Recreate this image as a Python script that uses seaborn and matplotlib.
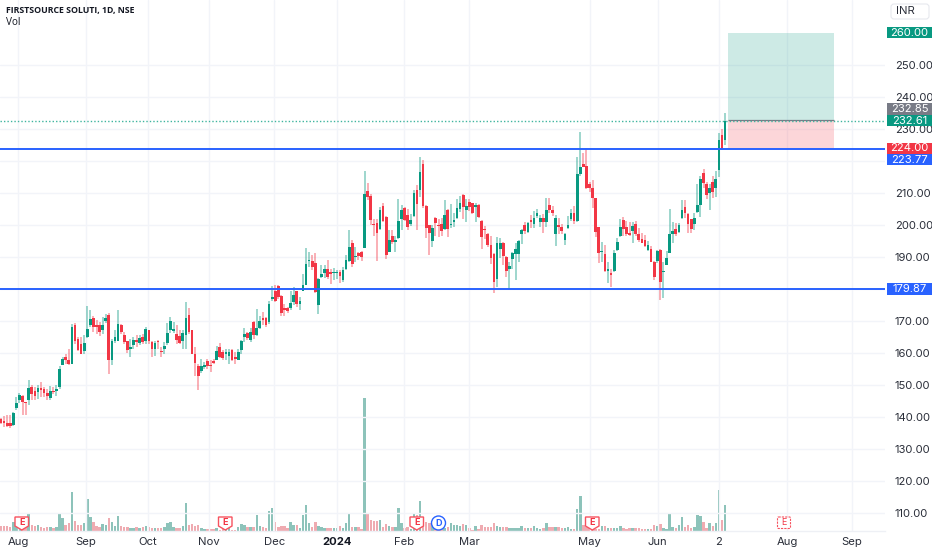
import numpy as np
import pandas as pd
import matplotlib
matplotlib.use("Agg")
import matplotlib.pyplot as plt
from matplotlib.patches import Rectangle, Polygon, Circle, FancyBboxPatch
from matplotlib.transforms import Affine2D
import seaborn as sns

opens = [
 139.3,138.9,138.0,138.0,137.5,142.7,145.3,146.6,144.6,145.2,
 149.4,148.1,147.8,148.8,148.6,147.5,145.9,148.2,148.0,149.3,
 156.4,158.9,157.9,156.6,168.9,164.5,162.9,160.5,165.0,168.6,
 171.0,168.9,168.6,167.1,170.0,172.0,157.9,163.9,163.9,168.9,
 165.5,163.7,161.3,162.6,164.1,163.2,165.0,163.6,167.1,163.4,
 161.3,163.9,160.5,161.3,163.2,167.1,166.9,165.8,165.3,163.9,
 165.7,172.0,167.1,159.8,155.8,154.3,155.6,157.4,156.3,157.4,
 157.9,161.8,160.3,159.8,159.2,161.0,158.9,157.9,160.8,165.1,
 166.1,164.1,169.8,165.6,167.9,170.9,170.9,169.7,176.8,179.5,
 181.0,177.9,173.7,174.1,174.1,175.9,179.3,175.4,179.5,181.2,
 188.7,188.9,188.1,174.9,183.9,185.0,186.1,185.1,184.9,184.9,
 185.2,182.9,186.2,188.9,194.3,190.0,191.4,191.6,192.9,210.5,
 209.0,200.2,200.7,198.8,205.8,202.5,191.7,196.7,194.7,196.0,
 201.9,205.4,203.0,200.2,202.7,211.0,211.0,219.1,205.9,199.9,
 195.0,202.2,199.9,200.4,198.8,204.6,199.9,201.0,202.3,205.1,
 209.3,204.7,207.2,206.8,205.5,206.2,201.2,198.5,197.1,193.7,
 191.0,183.1,192.4,194.5,190.1,186.2,189.3,190.9,190.9,197.2,
 199.9,197.9,201.3,200.3,202.9,200.8,202.3,200.8,206.2,204.7,
 197.1,199.9,199.5,195.3,199.2,202.0,203.9,201.3,215.9,219.2,
 218.3,212.7,211.7,208.3,199.4,191.5,190.9,185.7,184.8,185.7,
 192.1,196.6,201.5,199.5,197.1,198.2,200.2,197.1,195.6,195.3,
 192.2,192.6,188.5,188.8,192.2,185.2,187.6,191.4,197.1,198.7,
 197.9,202.3,205.7,203.4,201.8,200.2,204.2,206.2,216.4,212.7,
 210.1,213.5,211.7,217.1,228.1,226.6]
highs = [
 139.6,140.3,140.6,140.6,141.7,146.2,147.6,146.9,144.8,151.6,
 149.9,149.4,149.9,150.9,149.4,148.8,149.6,149.4,149.9,155.8,
 158.9,159.6,161.3,169.1,169.4,165.0,165.0,165.5,174.6,173.3,
 171.7,170.2,169.7,171.2,172.3,172.5,164.5,167.3,173.3,169.1,
 166.5,163.9,164.5,165.0,165.5,165.7,166.0,168.1,167.3,163.6,
 163.6,164.1,161.8,163.4,169.4,171.2,169.7,168.6,167.1,167.3,
 175.9,174.1,167.3,161.8,156.6,158.2,157.2,158.2,157.7,158.2,
 162.1,163.1,160.8,161.3,161.3,161.3,160.3,161.3,164.2,167.7,
 166.7,167.7,170.1,173.6,171.7,172.8,171.4,176.4,180.8,181.1,
 181.1,178.2,175.4,174.3,179.5,180.6,179.5,177.5,184.8,192.8,
 191.5,190.5,191.3,183.5,187.4,187.4,189.1,186.3,186.6,185.8,
 186.0,186.8,190.5,198.3,195.2,193.1,191.5,191.8,216.8,213.2,
 209.8,201.9,201.9,205.6,206.9,202.7,198.3,198.5,196.7,208.2,
 206.3,205.6,205.1,203.5,211.0,212.4,221.4,220.2,206.1,200.1,
 199.9,202.5,201.9,202.2,207.7,205.1,206.6,203.7,208.2,209.2,
 209.6,208.1,208.1,207.0,207.0,206.5,201.5,199.7,197.4,196.6,
 191.2,196.1,195.8,194.7,190.3,188.3,191.6,194.3,195.4,198.7,
 201.0,201.0,203.1,204.4,204.9,203.1,203.4,208.4,208.3,205.8,
 203.1,202.3,200.2,197.6,202.9,204.9,205.8,221.1,229.1,222.6,
 224.2,213.3,214.0,208.5,199.5,194.7,193.7,188.3,186.2,192.2,
 195.9,201.8,202.5,201.3,200.8,200.8,201.3,199.2,197.6,196.8,
 195.0,193.5,188.8,192.2,192.4,188.3,191.9,204.9,200.8,200.6,
 200.6,207.7,207.7,203.7,202.0,203.9,212.7,215.3,217.4,213.3,
 212.7,215.3,216.9,228.9,229.9,235.0]
lows = [
 137.8,137.0,136.8,136.5,137.2,142.2,144.3,140.6,140.6,143.6,
 145.2,145.2,145.7,146.2,146.2,145.2,145.4,147.3,146.7,148.8,
 156.1,156.6,156.4,156.6,162.9,160.6,159.6,159.8,164.8,168.1,
 166.5,166.0,165.2,166.0,169.4,153.3,156.1,163.1,163.7,166.0,
 162.9,160.0,158.7,161.3,161.8,162.4,162.9,162.9,162.9,158.9,
 159.2,161.3,158.9,159.6,162.4,166.2,166.2,162.9,162.9,161.3,
 161.3,166.0,159.6,152.7,148.3,153.7,155.1,155.1,154.0,156.6,
 157.7,158.5,157.9,157.7,156.6,157.4,156.6,157.7,159.8,163.5,
 164.1,163.5,164.3,165.3,167.6,168.6,168.1,169.1,176.4,175.9,
 176.9,171.7,171.7,172.5,173.3,174.9,174.3,173.3,179.5,181.1,
 186.8,185.8,178.7,172.3,183.5,183.5,183.2,181.6,182.9,183.2,
 181.8,182.2,185.8,188.4,187.0,188.4,189.1,188.9,192.8,207.7,
 199.9,196.7,188.9,198.3,200.9,189.4,191.5,194.1,191.5,195.7,
 198.3,201.4,198.3,199.6,202.5,198.5,208.7,205.4,196.0,190.5,
 193.1,196.7,196.2,196.7,198.3,196.2,199.1,199.3,202.0,204.0,
 202.0,201.0,204.4,203.4,200.8,202.3,192.6,195.6,193.0,187.7,
 178.7,180.5,189.8,187.4,183.6,179.7,186.2,182.9,188.3,194.0,
 197.1,197.4,199.2,199.2,202.3,199.5,197.6,199.5,203.9,202.8,
 193.5,197.1,197.1,193.7,198.7,201.3,200.2,200.8,215.4,218.0,
 211.4,210.3,205.2,196.1,188.1,188.3,185.2,182.0,180.5,185.4,
 191.9,196.4,196.6,196.6,196.6,194.5,196.6,194.7,194.3,193.0,
 191.9,188.3,182.9,188.0,176.6,177.3,187.4,191.2,194.3,196.6,
 197.6,202.0,202.3,197.6,197.4,198.5,203.9,202.6,211.7,208.1,
 204.7,208.3,208.6,215.0,223.5,224.9]
closes = [
 138.2,138.2,137.2,137.2,141.1,144.5,146.9,144.8,144.3,149.0,
 147.3,146.7,149.0,148.5,147.6,146.7,148.0,147.8,148.8,155.1,
 158.2,157.7,156.6,168.1,163.7,161.0,159.8,163.1,167.6,170.5,
 168.1,168.1,166.5,168.9,170.9,157.7,163.7,165.0,169.1,166.5,
 163.4,160.8,161.8,164.1,163.4,164.7,163.4,167.4,163.6,161.3,
 163.1,163.3,160.3,162.1,166.3,169.9,167.4,164.1,163.2,166.3,
 170.9,166.5,159.8,156.8,152.8,155.8,156.1,155.8,155.8,156.8,
 160.5,158.9,158.5,160.1,160.3,157.9,158.2,160.3,163.6,165.8,
 164.6,166.5,165.6,167.7,170.0,170.2,168.6,175.4,177.5,176.4,
 177.5,172.6,173.5,173.1,175.6,178.0,175.2,176.4,181.1,187.9,
 188.9,186.8,179.0,183.2,184.8,186.1,183.7,184.8,185.1,185.1,
 184.0,185.8,189.1,193.1,187.9,190.3,190.2,190.0,209.8,208.9,
 201.7,200.0,197.6,204.6,201.4,190.5,195.2,194.7,195.2,201.4,
 204.6,201.7,199.3,201.6,210.0,206.6,216.5,205.8,199.0,197.6,
 199.0,200.6,199.6,198.0,203.2,198.8,200.4,201.4,205.4,206.8,
 205.5,205.8,205.7,203.7,206.2,202.6,196.3,198.3,193.7,189.8,
 182.3,194.5,194.5,190.3,185.7,187.2,191.4,192.6,195.1,198.3,
 198.0,200.5,201.0,202.3,203.6,202.3,201.0,204.7,204.7,203.7,
 202.3,199.5,198.2,197.2,200.0,203.7,201.3,215.9,218.0,218.2,
 211.7,211.7,208.3,197.9,191.1,191.7,185.7,186.2,184.4,191.1,
 194.8,199.5,198.9,197.1,197.0,199.7,197.1,195.3,194.5,193.5,
 193.7,188.5,183.6,191.9,182.2,185.4,189.6,197.1,198.2,197.1,
 199.9,204.6,203.6,200.2,198.9,202.1,206.2,214.5,213.0,209.3,
 211.5,210.4,214.3,226.6,224.2,232.61]
volumes = [
 15,15,15,13,27,12,15,13,13,52,
 18,16,17,11,9,13,11,10,13,54,
 40,19,24,117,30,17,18,25,95,42,
 27,15,11,22,18,38,28,15,45,14,
 12,11,9,10,13,10,12,14,11,9,
 8,8,8,12,24,27,12,10,8,16,
 84,18,20,16,18,10,6,6,7,5,
 8,4,5,5,8,3,2,12,20,17,
 12,12,12,48,14,13,8,60,68,27,
 12,15,14,9,28,19,17,10,49,78,
 24,12,28,16,13,9,10,9,10,8,
 14,9,24,53,13,12,12,7,400,55,
 33,30,30,32,12,20,14,11,13,70,
 25,10,13,6,52,48,90,35,26,24,
 18,7,5,8,8,13,24,18,19,15,
 20,17,8,3,14,6,18,11,12,13,
 23,14,13,13,11,9,9,9,9,14,
 9,8,9,15,8,7,9,23,11,12,
 11,12,10,9,12,7,5,67,105,19,
 12,8,8,5,7,15,14,10,9,9,
 8,15,9,5,10,9,9,8,7,6,
 5,5,17,14,22,8,6,54,12,9,
 17,42,12,19,9,12,48,46,26,9,
 24,16,23,123,32,78]

tick_positions = [5.6,27.6,47.6,67.6,88.7,109.0,130.8,151.9,191.0,213.1,233.0,255.2,276.2]
tick_labels = ["Aug","Sep","Oct","Nov","Dec","2024","Feb","Mar","May","Jun","2","Aug","Sep"]
price_ticks = list(range(110, 260, 10))
hidden_price_labels = [180, 220]
support_levels = [223.77, 179.87]
last_price = 232.61
entry, stop, target = 232.85, 224.00, 260.00
position_span = (236.0, 270.3)

GREEN, RED, BLUE, GREY, INK = "#089981", "#F23645", "#2962FF", "#787B86", "#131722"
GRID = "#F2F4F9"

sns.set_theme(style="white", rc={"font.family": ["Inter", "DejaVu Sans"]})
plt.rcParams["font.family"] = ["Inter", "DejaVu Sans"]

W, H = 932, 550
fig = plt.figure(figsize=(W / 100, H / 100), dpi=100, facecolor="white")
ax = fig.add_axes([0, 1 - 531 / H, 885 / W, 531 / H])
ax_vol = ax.twinx()
ax.set_zorder(2)
ax.patch.set_visible(False)
ax_vol.set_zorder(1)
ax_vol.patch.set_facecolor("white")
px = Affine2D().scale(1 / W, -1 / H).translate(0, 1) + fig.transFigure

df = pd.DataFrame({"i": np.arange(len(opens), dtype=float), "o": opens, "h": highs,
                   "l": lows, "c": closes, "v": volumes})
df["up"] = df.c >= df.o

# Volume
sns.barplot(data=df, x="i", y="v", hue="up", palette={True: "#84CCC0", False: "#FAA0A8"},
            native_scale=True, dodge=False, width=0.8, errorbar=None, legend=False,
            ax=ax_vol, linewidth=0)
ax_vol.set_ylim(0, 1593)
ax_vol.set_xlabel(""); ax_vol.set_ylabel("")
ax_vol.set_yticks([])

# Reference bands
ax.add_patch(Rectangle((position_span[0], entry), position_span[1] - position_span[0], target - entry,
                       facecolor=GREEN, alpha=0.2, linewidth=0, zorder=1))
ax.add_patch(Rectangle((position_span[0], stop), position_span[1] - position_span[0], entry - stop,
                       facecolor=RED, alpha=0.2, linewidth=0, zorder=1))
ax.hlines(entry, position_span[0], position_span[1], color=GREY, lw=0.9, zorder=2)

# Candles
for up, col in [(True, GREEN), (False, RED)]:
    d = df[df.up == up]
    ax.vlines(d.i, d.l, d.h, color=col, alpha=0.5, lw=1.1, zorder=3)
    ax.bar(d.i, np.maximum((d.c - d.o).abs(), 0.45), bottom=d[["o", "c"]].min(axis=1),
           width=0.88, color=col, linewidth=0, zorder=4)

for lvl in support_levels:
    ax.axhline(lvl, color=BLUE, lw=1.4, zorder=5)
ax.axhline(last_price, color="#3FB59F", lw=1.0, ls=(0, (1, 1.5)), zorder=2)

ax.set_xlim(-0.325, 286.9)
ax.set_ylim(104.375, 270.31)
ax.set_xticks(tick_positions)
ax.set_xticklabels(tick_labels, fontsize=8.1, color="#2A2E39")
ax.get_xticklabels()[5].set_fontweight("bold")
ax.get_xticklabels()[5].set_color(INK)
ax.tick_params(axis="x", length=0, pad=4)
ax.yaxis.tick_right()
ax.set_yticks(price_ticks)
ax.set_yticklabels(["" if v in hidden_price_labels else f"{v:.2f}" for v in price_ticks],
                   fontsize=8.1, color="#2A2E39")
ax.tick_params(axis="y", length=0, pad=7)
ax.grid(True, color=GRID, lw=1.0)
ax.set_axisbelow(True)
for ax_ in (ax, ax_vol):
    for s in ax_.spines.values():
        s.set_visible(False)
ax.spines["bottom"].set_visible(True)
ax.spines["bottom"].set_color("#EEF0F5")
ax.spines["bottom"].set_linewidth(1.0)

# Header
fig.text(6, 10, "FIRSTSOURCE SOLUTI, 1D, NSE", transform=px, fontsize=6.35, fontweight="bold",
         family=["Open Sans", "DejaVu Sans"], color=INK, va="center", ha="left")
fig.text(6, 22.5, "Vol", transform=px, fontsize=7.2, color=INK, va="center", ha="left",
         family=["Open Sans", "DejaVu Sans"])

# Currency button
fig.add_artist(FancyBboxPatch((891, 4), 38, 15, boxstyle="round,pad=0,rounding_size=3", transform=px,
                              facecolor="white", edgecolor="#E6E8EE", lw=0.8))
fig.text(905, 11.5, "INR", transform=px, fontsize=8.1, color="#2A2E39", va="center", ha="center")

# Price tags
tags = [("260.00", 32.5, GREEN, 11.5), ("232.85", 109, GREY, 12), ("232.61", 120.5, GREEN, 11),
        ("224.00", 148, RED, 11), ("223.77", 159.5, BLUE, 11.5), ("179.87", 289, BLUE, 11.5)]
for label, yc, col, h in tags:
    fig.add_artist(Rectangle((887, yc - h / 2), 45, h, transform=px, facecolor=col, linewidth=0, zorder=6))
    fig.text(909.5, yc + 0.3, label, transform=px, fontsize=8.1, color="white", va="center", ha="center", zorder=7)

# Event markers
def shield(x0, x1, y0, y1, letter):
    xm = (x0 + x1) / 2
    pts = [(x0, y0), (x1, y0), (x1, y1 - 4), (xm, y1), (x0, y1 - 4)]
    fig.add_artist(Polygon(pts, closed=True, transform=px, facecolor="white", edgecolor="#F7525F", lw=1.0, zorder=6))
    fig.text(xm, (y0 + y1) / 2 - 1, letter, transform=px, fontsize=6.5, fontweight="bold", color="#F23645",
             va="center", ha="center", zorder=7)

for x0 in (15, 218.5, 410, 585.5):
    shield(x0, x0 + 13.5, 517, 530, "E")

fig.add_artist(Circle((438.5, 523), 7, transform=px, facecolor="white", edgecolor=BLUE, lw=1.0, zorder=6))
fig.text(438.5, 523, "D", transform=px, fontsize=6.5, fontweight="bold", color=BLUE, va="center", ha="center", zorder=7)

fig.add_artist(FancyBboxPatch((777.5, 517), 13, 11.5, boxstyle="round,pad=0,rounding_size=1", transform=px,
                              facecolor="white", edgecolor="#F7525F", lw=0.8, ls=(0, (2, 1)), zorder=6))
fig.text(784, 522.8, "E", transform=px, fontsize=6.5, color="#F23645", va="center", ha="center", zorder=7)

fig.savefig("out.png", dpi=100, facecolor="white")
